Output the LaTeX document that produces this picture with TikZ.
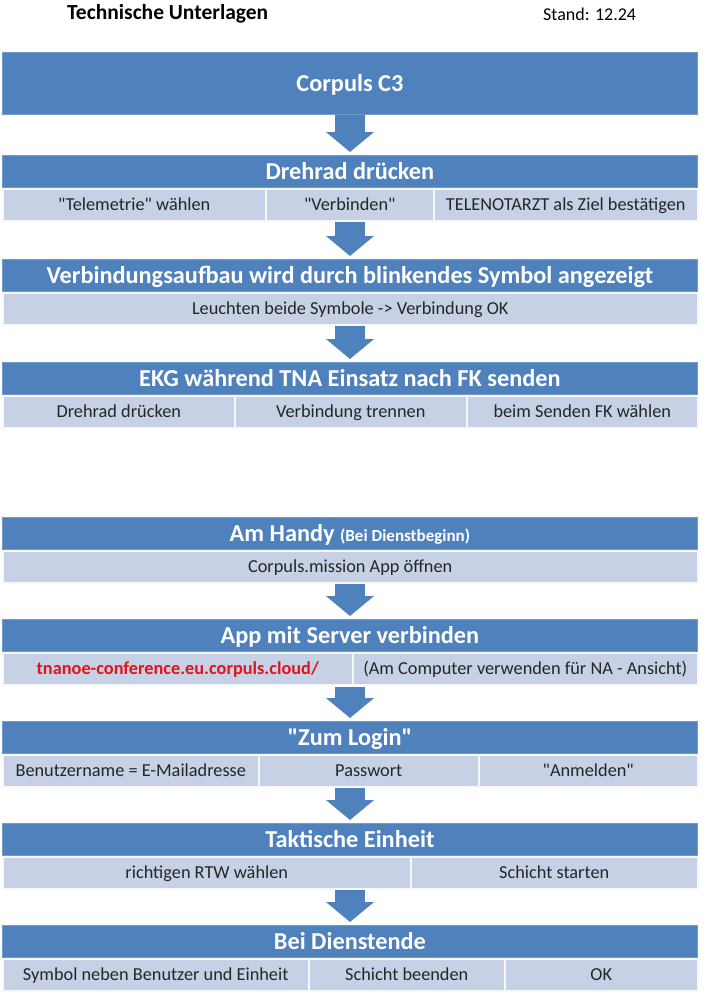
\documentclass[tikz,border=0pt]{standalone}
\usepackage{fontspec}
\setmainfont{Carlito}
\usetikzlibrary{arrows.meta}
\definecolor{hdr}{HTML}{4F81BD}
\definecolor{sub}{HTML}{C6D1E6}
\definecolor{txt}{HTML}{262626}
\definecolor{url}{HTML}{E0151A}
\newcommand{\qq}{\textquotedbl}
\tikzset{
 hbox/.style={fill=hdr, draw=hdr!80!white, line width=0.8pt, anchor=north west, inner sep=0, text=white, text height=19pt, text depth=2pt, font=\bfseries\fontsize{24.3}{28}\selectfont},
 cell/.style={fill=sub, draw=white!85!sub, line width=1.5pt, anchor=north west, inner sep=0, minimum height=32pt, text height=14pt, text depth=2pt, text=txt, font=\fontsize{18.3}{22}\selectfont},
 flow/.style={draw=hdr, line width=30pt, -{Triangle[width=47pt,length=20pt]}, shorten >=1pt}
}
\begin{document}
\begin{tikzpicture}[x=1pt,y=-1pt]
\useasboundingbox (0,0) rectangle (709,998);
\node[anchor=west, inner sep=0, font=\bfseries\fontsize{21.5}{24}\selectfont, text=black] (title) at (67,14) {Technische Unterlagen};
\node[anchor=west, inner sep=0, font=\fontsize{18}{21}\selectfont, text=black] (stand) at (543,14) {Stand: 12.24};
% Corpuls C3
\node[hbox, minimum width=695pt, minimum height=62pt] (h1) at (2,52) {Corpuls C3};
% Drehrad
\node[hbox, minimum width=695pt, minimum height=32pt] (h2) at (2,155) {Drehrad drücken};
\node[cell, minimum width=263pt] (c21) at (2,188) {\qq Telemetrie\qq{} wählen};
\node[cell, minimum width=168pt] (c22) at (265,188) {\qq Verbinden\qq};
\node[cell, minimum width=264pt] (c23) at (433,188) {TELENOTARZT als Ziel bestätigen};
% Verbindungsaufbau
\node[hbox, minimum width=695pt, minimum height=32pt] (h3) at (2,259) {Verbindungsaufbau wird durch blinkendes Symbol angezeigt};
\node[cell, minimum width=695pt] (c31) at (2,292) {Leuchten beide Symbole -> Verbindung OK};
% EKG
\node[hbox, minimum width=695pt, minimum height=32pt] (h4) at (2,362) {EKG während TNA Einsatz nach FK senden};
\node[cell, minimum width=232pt] (c41) at (2,395) {Drehrad drücken};
\node[cell, minimum width=232pt] (c42) at (234,395) {Verbindung trennen};
\node[cell, minimum width=231pt] (c43) at (466,395) {beim Senden FK wählen};
% Am Handy
\node[hbox, minimum width=695pt, minimum height=32pt] (h5) at (2,517) {Am Handy {\fontsize{17}{20}\selectfont(Bei Dienstbeginn)}};
\node[cell, minimum width=695pt] (c51) at (2,550) {Corpuls.mission App öffnen};
% App mit Server
\node[hbox, minimum width=695pt, minimum height=32pt] (h6) at (2,619) {App mit Server verbinden};
\node[cell, minimum width=350pt, text=url, font=\bfseries\fontsize{18.3}{22}\selectfont] (c61) at (2,652) {tnanoe-conference.eu.corpuls.cloud/};
\node[cell, minimum width=345pt] (c62) at (352,652) {(Am Computer verwenden für NA - Ansicht)};
% Zum Login
\node[hbox, minimum width=695pt, minimum height=32pt] (h7) at (2,721) {\qq Zum Login\qq};
\node[cell, minimum width=256pt] (c71) at (2,754) {Benutzername = E-Mailadresse};
\node[cell, minimum width=220pt] (c72) at (258,754) {Passwort};
\node[cell, minimum width=219pt] (c73) at (478,754) {\qq Anmelden\qq};
% Taktische Einheit
\node[hbox, minimum width=695pt, minimum height=32pt] (h8) at (2,823) {Taktische Einheit};
\node[cell, minimum width=408pt] (c81) at (2,856) {richtigen RTW wählen};
\node[cell, minimum width=287pt] (c82) at (410,856) {Schicht starten};
% Bei Dienstende
\node[hbox, minimum width=695pt, minimum height=32pt] (h9) at (2,925) {Bei Dienstende};
\node[cell, minimum width=306pt] (c91) at (2,958) {Symbol neben Benutzer und Einheit};
\node[cell, minimum width=196pt] (c92) at (308,958) {Schicht beenden};
\node[cell, minimum width=193pt] (c93) at (504,958) {OK};
% arrows
\coordinate (a1) at (350,115); \coordinate (b1) at (350,153);
\coordinate (a2) at (350,222); \coordinate (b2) at (350,257);
\coordinate (a3) at (350,326); \coordinate (b3) at (350,360);
\coordinate (a5) at (350,584); \coordinate (b5) at (350,617);
\coordinate (a6) at (350,687); \coordinate (b6) at (350,719);
\coordinate (a7) at (350,788); \coordinate (b7) at (350,821);
\coordinate (a8) at (350,890); \coordinate (b8) at (350,923);
\foreach \i in {1,2,3,5,6,7,8} \draw[flow] (a\i) -- (b\i);
\end{tikzpicture}
\end{document}
